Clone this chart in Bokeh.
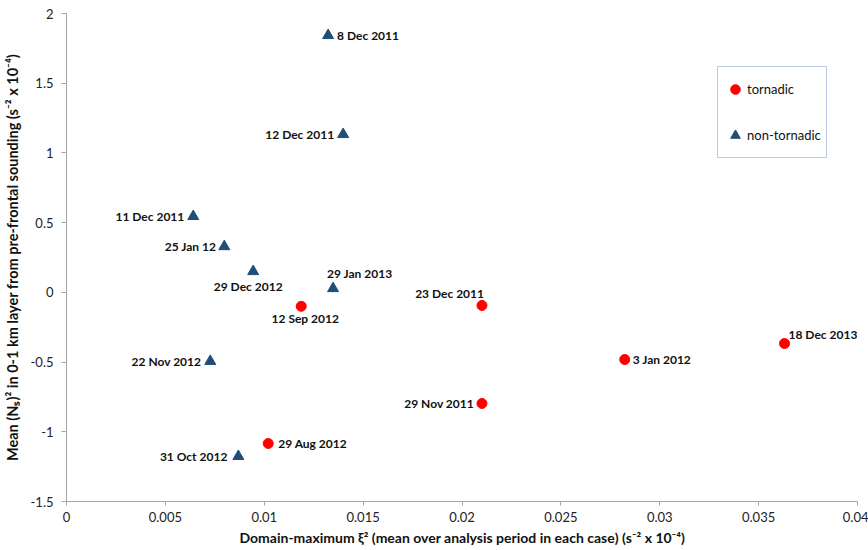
from bokeh.plotting import figure
from bokeh.models import ColumnDataSource, Range1d, FixedTicker, CustomJSTickFormatter, Legend, LegendItem
from bokeh.core.properties import value
from bokeh.embed import file_html
from bokeh.resources import INLINE

# ---- data ----
tornadic_names = ["12 Sep 2012", "23 Dec 2011", "29 Nov 2011", "3 Jan 2012", "18 Dec 2013", "29 Aug 2012"]
tornadic_x = [0.01187, 0.02101, 0.02101, 0.02823, 0.03631, 0.01020]
tornadic_y = [-0.10, -0.094, -0.797, -0.482, -0.367, -1.084]

nontornadic_names = ["8 Dec 2011", "12 Dec 2011", "11 Dec 2011", "25 Jan 12", "29 Dec 2012",
                     "29 Jan 2013", "22 Nov 2012", "31 Oct 2012"]
nontornadic_x = [0.01323, 0.01399, 0.00641, 0.00798, 0.00944, 0.01348, 0.00727, 0.00869]
nontornadic_y = [1.843, 1.133, 0.545, 0.329, 0.150, 0.028, -0.494, -1.176]

x_ticks = [0, 0.005, 0.01, 0.015, 0.02, 0.025, 0.03, 0.035, 0.04]
y_ticks = [-1.5, -1, -0.5, 0, 0.5, 1, 1.5, 2]

x_title = "Domain-maximum \u03be\u00b2 (mean over analysis period in each case) (s\u207b\u00b2 x 10\u207b\u2074)"
y_title = "Mean (N\u209b)\u00b2 in 0-1 km layer from pre-frontal sounding (s\u207b\u00b2 x 10\u207b\u2074)"

# ---- label placement (screen pixels; dy positive = down) ----
tornadic_align = ["center", "right", "right", "left", "left", "left"]
tornadic_dx = [4, 2, -8, 8, 4, 10]
tornadic_dy = [12, -12, 0, 0, -9, 0]

nontornadic_align = ["left", "right", "right", "right", "center", "left", "right", "right"]
nontornadic_dx = [9, -9, -9, -8, -5, -6, -9, -11]
nontornadic_dy = [0, 0, 0, 0, 15, -15, 0, 0]

FONT = "Lato"

p = figure(width=868, height=550, output_backend="svg", toolbar_location=None,
           x_range=Range1d(0, 0.04), y_range=Range1d(-1.5, 2),
           min_border_left=65, min_border_right=11, min_border_top=13, min_border_bottom=49)
p.outline_line_color = None
p.xgrid.visible = False
p.ygrid.visible = False
p.background_fill_color = "white"
p.border_fill_color = "white"

fmt = CustomJSTickFormatter(code="return String(parseFloat(tick.toFixed(4)));")
for ax, ticks in ((p.xaxis[0], x_ticks), (p.yaxis[0], y_ticks)):
    ax.ticker = FixedTicker(ticks=ticks)
    ax.formatter = fmt
    ax.axis_line_color = "#A6A6A6"
    ax.major_tick_line_color = "#A6A6A6"
    ax.minor_tick_line_color = None
    ax.major_tick_in = 0
    ax.major_label_text_font = FONT
    ax.major_label_text_font_size = "13px"
    ax.major_label_text_color = "#222222"
    ax.axis_label_text_font = FONT
    ax.axis_label_text_font_style = "bold"
    ax.axis_label_text_color = "#111111"

p.xaxis[0].major_tick_out = 4
p.xaxis[0].major_label_standoff = 6
p.xaxis[0].axis_label_standoff = 4
p.xaxis[0].axis_label = x_title
p.xaxis[0].axis_label_text_font_size = "14px"
p.yaxis[0].major_tick_out = 5
p.yaxis[0].major_label_standoff = 8
p.yaxis[0].axis_label_standoff = 7
p.yaxis[0].axis_label = y_title
p.yaxis[0].axis_label_text_font_size = "14.5px"

r_t = p.scatter(tornadic_x, tornadic_y, marker="circle", size=10,
                fill_color="#FF0000", line_color="#FF0000")
r_n = p.scatter(nontornadic_x, nontornadic_y, marker="triangle", size=11,
                fill_color="#1F4E79", line_color="#1F4E79")

lab = ColumnDataSource(dict(
    x=tornadic_x + nontornadic_x,
    y=tornadic_y + nontornadic_y,
    t=tornadic_names + nontornadic_names,
    a=tornadic_align + nontornadic_align,
    dx=tornadic_dx + nontornadic_dx,
    dy=tornadic_dy + nontornadic_dy,
))
p.text(x="x", y="y", text="t", source=lab, text_align="a", text_baseline="middle",
       x_offset="dx", y_offset="dy", text_font=value(FONT), text_font_size="12px",
       text_font_style="bold", text_color="#111111")

legend = Legend(items=[LegendItem(label="tornadic", renderers=[r_t]),
                       LegendItem(label="non-tornadic", renderers=[r_n])],
                location=(651, 343), orientation="vertical",
                padding=5, spacing=12, margin=0,
                glyph_width=24, glyph_height=34, label_height=34, label_standoff=0,
                label_text_font=FONT, label_text_font_size="13px", label_text_color="#111111",
                border_line_color="#7B98CC", border_line_width=1,
                background_fill_color="white", background_fill_alpha=1.0)
p.add_layout(legend)

open("out.html", "w").write(file_html(p, INLINE))
